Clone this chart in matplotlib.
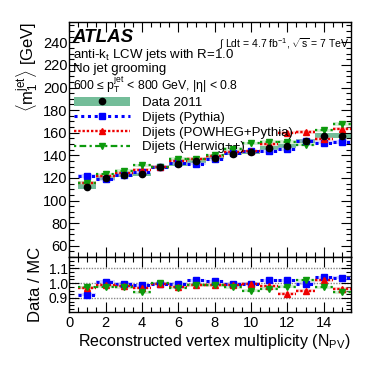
import matplotlib
matplotlib.use("Agg")
import matplotlib.pyplot as plt
from matplotlib.lines import Line2D
from matplotlib.patches import Patch
from matplotlib.ticker import MultipleLocator
import numpy as np

plt.rcParams['font.family'] = ['Liberation Sans', 'DejaVu Sans']
plt.rcParams['mathtext.fontset'] = 'custom'
plt.rcParams['mathtext.rm'] = 'Liberation Sans'
plt.rcParams['mathtext.it'] = 'Liberation Sans'

# number of primary vertices
npv = [1, 2, 3, 4, 5, 6, 7, 8, 9, 10, 11, 12, 13, 14, 15]

# mean leading jet mass [GeV]
data_mass = [112.2, 120.0, 122.5, 123.2, 129.3, 132.3, 135.0, 138.0, 141.5, 143.0,
             146.6, 148.4, 152.5, 157.5, 157.5]
pythia_mass = [121.7, 118.8, 123.0, 124.9, 129.8, 132.8, 132.5, 136.4, 142.1, 143.6,
               143.9, 145.6, 153.1, 151.3, 151.9]
powheg_mass = [115.7, 121.7, 124.5, 127.3, 129.8, 135.4, 136.9, 139.4, 142.9, 143.6,
               149.6, 160.1, 160.5, 154.6, 163.6]
herwig_mass = [115.4, 123.1, 126.0, 131.1, 129.3, 136.7, 136.4, 140.0, 145.6, 150.5,
               152.2, 151.9, 149.5, 162.0, 167.6]
data_syst = [2.0, 1.5, 1.5, 1.5, 1.5, 1.5, 1.5, 1.5, 1.5, 1.5, 1.5, 1.8, 2.0, 2.5, 2.5]

# data / MC
ratio_pythia = [0.922, 1.010, 0.996, 0.986, 0.996, 0.996, 1.019, 1.012, 0.996, 0.996,
                1.019, 1.019, 0.996, 1.041, 1.037]
ratio_powheg = [0.970, 0.986, 0.984, 0.968, 0.996, 0.977, 0.986, 0.990, 0.990, 0.996,
                0.980, 0.927, 0.950, 1.019, 0.963]
ratio_herwig = [0.972, 0.975, 0.972, 0.940, 1.000, 0.968, 0.990, 0.986, 0.972, 0.950,
                0.963, 0.977, 1.020, 0.972, 0.940]

band_col = '#74bd99'
series = [
    ("Dijets (Pythia)", pythia_mass, ratio_pythia, '#0000ff', 's', 4.5, (0, (1, 1.2)), 2.2, '#9999ff'),
    ("Dijets (POWHEG+Pythia)", powheg_mass, ratio_powheg, '#ee0000', '^', 4.5, (0, (1, 0.8)), 1.7, '#f5a0a0'),
    ("Dijets (Herwig++)", herwig_mass, ratio_herwig, '#0c9a0c', 'v', 4.5, (0, (1, 1.5, 3, 1.5)), 1.6, '#99d899'),
]

fig = plt.figure(figsize=(3.82, 3.67), dpi=100)
ax = fig.add_axes([0.181, 0.2997, 0.738, 0.6403])
rax = fig.add_axes([0.181, 0.1499, 0.738, 0.1498], sharex=ax)

x = np.array(npv, dtype=float)

# data systematic band
ax.bar(x, 2 * np.array(data_syst), bottom=np.array(data_mass) - np.array(data_syst),
       width=1.0, color=band_col, edgecolor='none', zorder=1)

handles = [(Patch(facecolor=band_col, edgecolor='none'),
            Line2D([], [], color='black', marker='o', ms=4.5, ls='none'))]
labels = ["Data 2011"]

for name, mass, ratio, col, mk, ms, ls, lw, light in series:
    m = np.array(mass)
    r = np.array(ratio)
    ax.bar(x, 3.0, bottom=m - 1.5, width=1.0, color=light, alpha=0.4,
           edgecolor='none', zorder=2)
    ax.hlines(m, x - 0.5, x + 0.5, colors=col, linestyles=[ls], linewidth=lw, zorder=3)
    ax.vlines(x, m - 1.8, m + 1.8, colors=col, linewidth=1.0, zorder=3)
    ax.plot(x, m, ls='none', marker=mk, ms=ms, color=col, zorder=4)

    rax.bar(x, 0.02, bottom=r - 0.01, width=1.0, color=light, alpha=0.4,
            edgecolor='none', zorder=2)
    rax.hlines(r, x - 0.5, x + 0.5, colors=col, linestyles=[ls], linewidth=lw, zorder=3)
    rax.vlines(x, r - 0.012, r + 0.012, colors=col, linewidth=1.0, zorder=3)
    rax.plot(x, r, ls='none', marker=mk, ms=ms - 0.5, color=col, zorder=4)

    handles.append(Line2D([], [], color=col, ls=ls, lw=lw, marker=mk, ms=ms))
    labels.append(name)

ax.plot(x, data_mass, ls='none', marker='o', ms=4.5, color='black', zorder=5)

# reference lines in ratio
for yv in [0.9, 1.0, 1.1]:
    rax.axhline(yv, color='#888888', ls=(0, (1, 1)), lw=1.0, zorder=1)

ax.set_xlim(0, 15.5)
ax.set_ylim(50, 258)
rax.set_ylim(0.805, 1.177)

for a in (ax, rax):
    a.tick_params(which='both', direction='in', top=True, right=True, labelsize=10.5)
    a.tick_params(which='major', length=7, width=0.8)
    a.tick_params(which='minor', length=3.5, width=0.8)
    a.xaxis.set_major_locator(MultipleLocator(2))
    a.xaxis.set_minor_locator(MultipleLocator(0.5))
    for s in a.spines.values():
        s.set_linewidth(1.0)

ax.yaxis.set_major_locator(MultipleLocator(20))
ax.yaxis.set_minor_locator(MultipleLocator(5))
ax.tick_params(labelbottom=False, pad=1)
rax.yaxis.set_minor_locator(MultipleLocator(0.025))
rax.set_yticks([0.9, 1.0, 1.1])
rax.set_yticklabels(['0.9', '1.0', '1.1'])
rax.tick_params(axis='y', labelsize=10, pad=1)
rax.tick_params(axis='x', pad=3)

ax.set_ylabel(r"$\langle$m$_{1}^{\mathrm{jet}}\rangle$ [GeV]", fontsize=12, loc='top', labelpad=2)
rax.set_ylabel("Data / MC", fontsize=12, labelpad=4)
rax.set_xlabel(r"Reconstructed vertex multiplicity (N$_{\mathrm{PV}}$)", fontsize=11.5,
               loc='right', labelpad=1)
fig.align_ylabels([ax, rax])

ax.text(0.012, 0.935, "ATLAS", transform=ax.transAxes, fontsize=13.5,
        fontweight='bold', fontstyle='italic', va='center')
ax.text(0.012, 0.860, r"anti-k$_{t}$ LCW jets with R=1.0", transform=ax.transAxes,
        fontsize=9.5, va='center')
ax.text(0.012, 0.802, "No jet grooming", transform=ax.transAxes, fontsize=9.5, va='center')
ax.text(0.012, 0.732, r"600 ≤ p$_{T}^{jet}$ < 800 GeV, |η| < 0.8", transform=ax.transAxes,
        fontsize=8.8, va='center')
ax.text(0.53, 0.905, r"$\int$ Ldt = 4.7 fb$^{-1}$, $\sqrt{s}$ = 7 TeV", transform=ax.transAxes,
        fontsize=7.5, va='center')

ax.legend(handles, labels, loc='upper left', bbox_to_anchor=(0.0, 0.705), frameon=False,
          fontsize=9.5, handlelength=4.2, handletextpad=0.9, labelspacing=0.2,
          borderaxespad=0.0, borderpad=0.4)

fig.savefig("out.png", dpi=100)
